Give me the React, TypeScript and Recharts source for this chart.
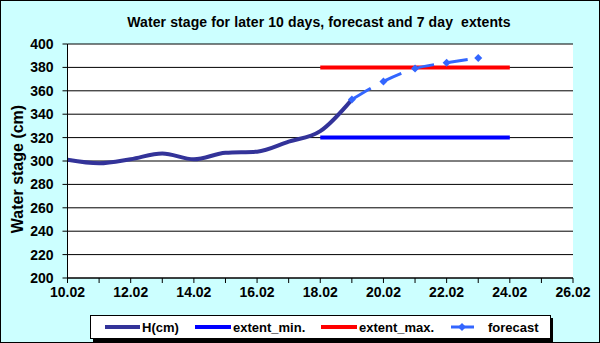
import React from 'react'
import {
  LineChart,
  Line,
  CartesianGrid,
  XAxis,
  YAxis,
  Customized
} from 'recharts'

// day labels, 10.02 .. 26.02 (index = day offset)
const dayLabels = [
  '10.02', '11.02', '12.02', '13.02', '14.02', '15.02', '16.02', '17.02', '18.02',
  '19.02', '20.02', '21.02', '22.02', '23.02', '24.02', '25.02', '26.02'
]

// observed stage, 10.02 .. 19.02
const hValues = [301, 298, 301.5, 306.5, 301.5, 307, 308, 316.5, 325.5, 352.5]

// forecast, 19.02 .. 23.02
const forecastStart = 9
const forecastValues = [352.5, 368, 379, 384, 388]

// 7 day extents, 18.02 .. 24.02
const extentStart = 8
const extentMinValues = [320, 320, 320, 320, 320, 320, 320]
const extentMaxValues = [380, 380, 380, 380, 380, 380, 380]

const yTicks = [200, 220, 240, 260, 280, 300, 320, 340, 360, 380, 400]

const data = dayLabels.map((label, i) => ({
  x: i,
  label,
  h: i < hValues.length ? hValues[i] : null,
  fc:
    i >= forecastStart && i < forecastStart + forecastValues.length
      ? forecastValues[i - forecastStart]
      : null,
  min:
    i >= extentStart && i < extentStart + extentMinValues.length
      ? extentMinValues[i - extentStart]
      : null,
  max:
    i >= extentStart && i < extentStart + extentMaxValues.length
      ? extentMaxValues[i - extentStart]
      : null
}))

const FONT = '"Liberation Sans", Arial, sans-serif'

const Diamond = (props: any) => {
  const { cx, cy } = props
  if (cx == null || cy == null) return null
  return (
    <path
      d={`M${cx},${cy - 4} L${cx + 4},${cy} L${cx},${cy + 4} L${cx - 4},${cy} Z`}
      fill='#3366ff'
    />
  )
}

const PlotFrame = (props: any) => {
  const { offset } = props
  if (!offset) return null
  return (
    <rect
      x={offset.left}
      y={offset.top}
      width={offset.width}
      height={offset.height}
      fill='none'
      stroke='#808080'
      strokeWidth={1}
    />
  )
}

const legendItems = [
  { name: 'H(cm)', color: '#333399', x: 105, w: 35, marker: false },
  { name: 'extent_min.', color: '#0000ff', x: 195, w: 36, marker: false },
  { name: 'extent_max.', color: '#ff0000', x: 321, w: 36, marker: false },
  { name: 'forecast', color: '#3366ff', x: 451, w: 23, marker: true }
]

const Legend = () => (
  <svg
    width={600}
    height={343}
    style={{ position: 'absolute', left: 0, top: 0, pointerEvents: 'none' }}
  >
    <rect x={93} y={318} width={460} height={24} fill='#000' />
    <rect x={90.5} y={315.5} width={460} height={23} fill='#fff' stroke='#000' />
    {legendItems.map((it) => (
      <g key={it.name}>
        <line
          x1={it.x}
          x2={it.x + it.w}
          y1={327}
          y2={327}
          stroke={it.color}
          strokeWidth={it.marker ? 3 : 4}
        />
        {it.marker ? (
          <path d='M462,323 L466,327 L462,331 L458,327 Z' fill={it.color} />
        ) : null}
        <text
          x={it.marker ? 488 : it.x + it.w + 2}
          y={332}
          fontFamily={FONT}
          fontWeight='bold'
          fontSize={13}
          fill='#000'
        >
          {it.name}
        </text>
      </g>
    ))}
  </svg>
)

export default function App() {
  return (
    <div
      style={{
        position: 'absolute',
        left: 0,
        top: 0,
        width: 600,
        height: 343,
        background: '#ccffff',
        fontFamily: FONT
      }}
    >
      <div
        style={{
          position: 'absolute',
          left: 0,
          top: 0,
          width: 598,
          height: 341,
          border: '1px solid #000'
        }}
      />
      <div
        style={{
          position: 'absolute',
          top: 14,
          left: 19,
          width: 600,
          textAlign: 'center',
          fontWeight: 'bold',
          fontSize: 14,
          letterSpacing: 0.1,
          lineHeight: '17px'
        }}
      >
        Water stage for later 10 days, forecast and 7 day&nbsp; extents
      </div>
      <div style={{ position: 'absolute', left: 0, top: 0 }}>
        <LineChart
          width={600}
          height={343}
          data={data}
          margin={{ top: 44, right: 27, bottom: 35, left: 0 }}
          style={{ fontFamily: FONT }}
        >
          <Customized component={PlotFrame} />
          <CartesianGrid
            vertical={false}
            stroke='#000'
            strokeWidth={1}
            fill='#fff'
            fillOpacity={1}
          />
          <XAxis
            dataKey='x'
            type='number'
            domain={[0, 16]}
            ticks={dayLabels.map((_, i) => i)}
            tickFormatter={(v: number) => (v % 2 === 0 ? dayLabels[v] : '')}
            interval={0}
            height={30}
            tickSize={5}
            tickMargin={4}
            axisLine={{ stroke: '#000' }}
            tickLine={{ stroke: '#000' }}
            tick={{ fill: '#000', fontSize: 14, fontWeight: 'bold' }}
          />
          <YAxis
            type='number'
            domain={[200, 400]}
            ticks={yTicks}
            interval={0}
            width={67.5}
            tickSize={5}
            tickMargin={9}
            axisLine={{ stroke: '#000' }}
            tickLine={{ stroke: '#000' }}
            tick={{ fill: '#000', fontSize: 14, fontWeight: 'bold' }}
            label={{
              value: 'Water stage (cm)',
              angle: -90,
              position: 'insideLeft',
              dx: 12,
              dy: 8,
              style: {
                textAnchor: 'middle',
                fontSize: 16,
                fontWeight: 'bold',
                fill: '#000'
              }
            }}
          />
          <Line
            dataKey='min'
            type='linear'
            stroke='#0000ff'
            strokeWidth={4}
            dot={false}
            isAnimationActive={false}
          />
          <Line
            dataKey='max'
            type='linear'
            stroke='#ff0000'
            strokeWidth={4}
            dot={false}
            isAnimationActive={false}
          />
          <Line
            dataKey='h'
            type='monotone'
            stroke='#333399'
            strokeWidth={4}
            dot={false}
            isAnimationActive={false}
          />
          <Line
            dataKey='fc'
            type='monotone'
            stroke='#3366ff'
            strokeWidth={3}
            strokeDasharray='22 12'
            dot={<Diamond />}
            isAnimationActive={false}
          />
        </LineChart>
      </div>
      <Legend />
    </div>
  )
}
